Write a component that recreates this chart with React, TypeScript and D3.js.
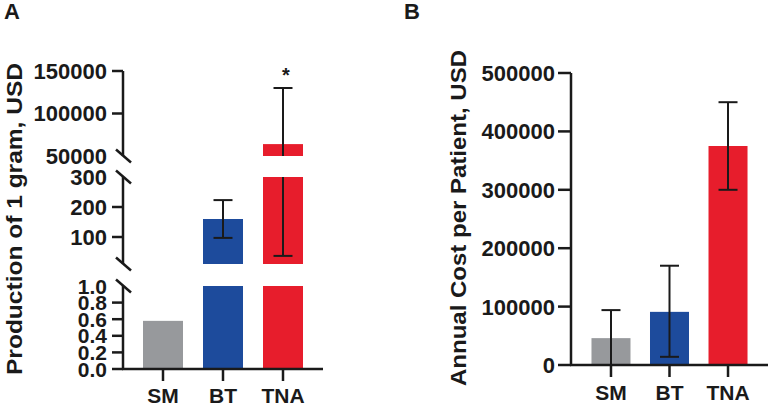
import React from "react";
import * as d3 from "d3";

const categories = ["SM", "BT", "TNA"];
const colors = ["#97999c", "#1d4b9c", "#e71d2c"];

// Panel A: production of 1 gram (USD)
const prodMean = [0.58, 160, 64000];
const prodErrLow = [NaN, 97, 37];
const prodErrHigh = [NaN, 223, 130000];
const prodStars = ["", "", "*"];

// Panel A broken-axis segments
const segTopTicks = [50000, 100000, 150000];
const segMidTicks = [100, 200, 300];
const segLowTicks = [0, 0.2, 0.4, 0.6, 0.8, 1.0];

// Panel B: annual cost per patient (USD)
const costMean = [46000, 91000, 375000];
const costErrLow = [0, 14000, 300000];
const costErrHigh = [94000, 170000, 450000];
const costTicks = [0, 100000, 200000, 300000, 400000, 500000];

const FONT = "'Liberation Sans', Arial, Helvetica, sans-serif";
const INK = "#1a1a1a";

export default function App() {
  // ---------- Panel A ----------
  const axA = 123;
  const xA = d3.scaleBand<string>().domain(categories).range([axA, 323]).paddingInner(1 / 3).paddingOuter(1 / 3);
  const segments = [
    { scale: d3.scaleLinear().domain([50000, 150000]).range([156, 71]), ticks: segTopTicks, fmt: (v: number) => String(v), breakBottom: true, breakTop: false },
    { scale: d3.scaleLinear().domain([10, 300]).range([264, 177]), ticks: segMidTicks, fmt: (v: number) => String(v), breakBottom: true, breakTop: true },
    { scale: d3.scaleLinear().domain([0, 1]).range([369, 286]), ticks: segLowTicks, fmt: (v: number) => d3.format(".1f")(v), breakBottom: false, breakTop: true },
  ];
  const capW = 19;

  const elsA: React.ReactNode[] = [];
  segments.forEach((seg, si) => {
    const [d0, d1] = seg.scale.domain();
    const [r0, r1] = seg.scale.range();
    categories.forEach((c, i) => {
      const v = prodMean[i];
      if (v <= d0) return;
      const top = seg.scale(Math.min(v, d1));
      elsA.push(
        <rect key={`b${si}${i}`} x={xA(c)} y={top} width={xA.bandwidth()} height={r0 - top} fill={colors[i]} />
      );
    });
    categories.forEach((c, i) => {
      const lo = prodErrLow[i], hi = prodErrHigh[i];
      if (isNaN(lo)) return;
      const a = Math.max(lo, d0), b = Math.min(hi, d1);
      if (a >= b) return;
      const cx = (xA(c) as number) + xA.bandwidth() / 2;
      elsA.push(<line key={`e${si}${i}`} x1={cx} x2={cx} y1={seg.scale(a)} y2={seg.scale(b)} stroke={INK} strokeWidth={2} />);
      if (lo >= d0 && lo <= d1)
        elsA.push(<line key={`el${si}${i}`} x1={cx - capW / 2} x2={cx + capW / 2} y1={seg.scale(lo)} y2={seg.scale(lo)} stroke={INK} strokeWidth={2} />);
      if (hi >= d0 && hi <= d1)
        elsA.push(<line key={`eh${si}${i}`} x1={cx - capW / 2} x2={cx + capW / 2} y1={seg.scale(hi)} y2={seg.scale(hi)} stroke={INK} strokeWidth={2} />);
    });
    elsA.push(<line key={`ax${si}`} x1={axA} x2={axA} y1={r0} y2={r1} stroke={INK} strokeWidth={2.5} />);
    const slash = (y: number, k: string) => (
      <line key={k} x1={axA - 7} x2={axA + 8} y1={y - 6.5} y2={y + 6.5} stroke={INK} strokeWidth={2.5} />
    );
    if (seg.breakBottom) elsA.push(slash(r0, `sb${si}`));
    if (seg.breakTop) elsA.push(slash(r1, `st${si}`));
    seg.ticks.forEach((t, ti) => {
      const y = seg.scale(t);
      const isBreak = (seg.breakBottom && t === d0) || (seg.breakTop && t === d1);
      if (!isBreak)
        elsA.push(<line key={`t${si}${ti}`} x1={axA - 11} x2={axA} y1={y} y2={y} stroke={INK} strokeWidth={2.5} />);
      elsA.push(
        <text key={`tl${si}${ti}`} x={107} y={y} dy="0.36em" textAnchor="end" fontSize={si === 2 ? 21 : 22} fontWeight="bold" fontFamily={FONT} fill={INK}>
          {seg.fmt(t)}
        </text>
      );
    });
  });
  const topSeg = segments[0].scale;
  categories.forEach((c, i) => {
    if (!prodStars[i]) return;
    const cx = (xA(c) as number) + xA.bandwidth() / 2;
    elsA.push(
      <text key={`star${i}`} x={cx + 3} y={topSeg(prodErrHigh[i]) - 6} textAnchor="middle" fontSize={20} fontWeight="bold" fontFamily={FONT} fill={INK}>
        {prodStars[i]}
      </text>
    );
  });
  const baseA = 369;

  // ---------- Panel B ----------
  const axB = 571;
  const xB = d3.scaleBand<string>().domain(categories).range([axB, 768]).paddingInner(1 / 3).paddingOuter(0.35);
  const yB = d3.scaleLinear().domain([0, 500000]).range([365, 73]);
  const baseB = yB(0);

  return (
    <svg width={768} height={406} style={{ position: "absolute", left: 0, top: 0, background: "#fff" }}>
      <rect width={768} height={406} fill="#fff" />
      {/* Panel A */}
      <text x={4} y={19} fontSize={22} fontWeight="bold" fontFamily={FONT} fill={INK}>A</text>
      <text transform="translate(22,219) rotate(-90)" textAnchor="middle" fontSize={22.5} fontWeight="bold" fontFamily={FONT} fill={INK}
        textLength={312} lengthAdjust="spacingAndGlyphs">
        Production of 1 gram, USD
      </text>
      {elsA}
      <line x1={axA - 1} x2={323} y1={baseA} y2={baseA} stroke={INK} strokeWidth={2.5} />
      {categories.map((c) => {
        const cx = (xA(c) as number) + xA.bandwidth() / 2;
        return (
          <g key={`xa${c}`}>
            <line x1={cx} x2={cx} y1={baseA} y2={baseA + 12} stroke={INK} strokeWidth={2.5} />
            <text x={cx} y={403} textAnchor="middle" fontSize={21} fontWeight="bold" fontFamily={FONT} fill={INK}>{c}</text>
          </g>
        );
      })}

      {/* Panel B */}
      <text x={404} y={19} fontSize={22} fontWeight="bold" fontFamily={FONT} fill={INK}>B</text>
      <text transform="translate(466,218) rotate(-90)" textAnchor="middle" fontSize={22.5} fontWeight="bold" fontFamily={FONT} fill={INK}
        textLength={336} lengthAdjust="spacingAndGlyphs">
        Annual Cost per Patient, USD
      </text>
      {categories.map((c, i) => (
        <rect key={`bb${c}`} x={xB(c)} y={yB(costMean[i])} width={xB.bandwidth()} height={baseB - yB(costMean[i])} fill={colors[i]} />
      ))}
      {categories.map((c, i) => {
        const cx = (xB(c) as number) + xB.bandwidth() / 2;
        return (
          <g key={`eb${c}`}>
            <line x1={cx} x2={cx} y1={yB(costErrLow[i])} y2={yB(costErrHigh[i])} stroke={INK} strokeWidth={2} />
            <line x1={cx - capW / 2} x2={cx + capW / 2} y1={yB(costErrHigh[i])} y2={yB(costErrHigh[i])} stroke={INK} strokeWidth={2} />
            {costErrLow[i] > 0 && (
              <line x1={cx - capW / 2} x2={cx + capW / 2} y1={yB(costErrLow[i])} y2={yB(costErrLow[i])} stroke={INK} strokeWidth={2} />
            )}
          </g>
        );
      })}
      <line x1={axB} x2={axB} y1={yB(500000)} y2={baseB} stroke={INK} strokeWidth={2.5} />
      {costTicks.map((t) => (
        <g key={`yb${t}`}>
          <line x1={axB - 13} x2={axB} y1={yB(t)} y2={yB(t)} stroke={INK} strokeWidth={2.5} />
          <text x={555} y={yB(t)} dy="0.36em" textAnchor="end" fontSize={22} fontWeight="bold" fontFamily={FONT} fill={INK}>{t}</text>
        </g>
      ))}
      <line x1={axB - 1} x2={768} y1={baseB} y2={baseB} stroke={INK} strokeWidth={2.5} />
      {categories.map((c) => {
        const cx = (xB(c) as number) + xB.bandwidth() / 2;
        return (
          <g key={`xb${c}`}>
            <line x1={cx} x2={cx} y1={baseB} y2={baseB + 12} stroke={INK} strokeWidth={2.5} />
            <text x={cx} y={400} textAnchor="middle" fontSize={21} fontWeight="bold" fontFamily={FONT} fill={INK}>{c}</text>
          </g>
        );
      })}
    </svg>
  );
}
